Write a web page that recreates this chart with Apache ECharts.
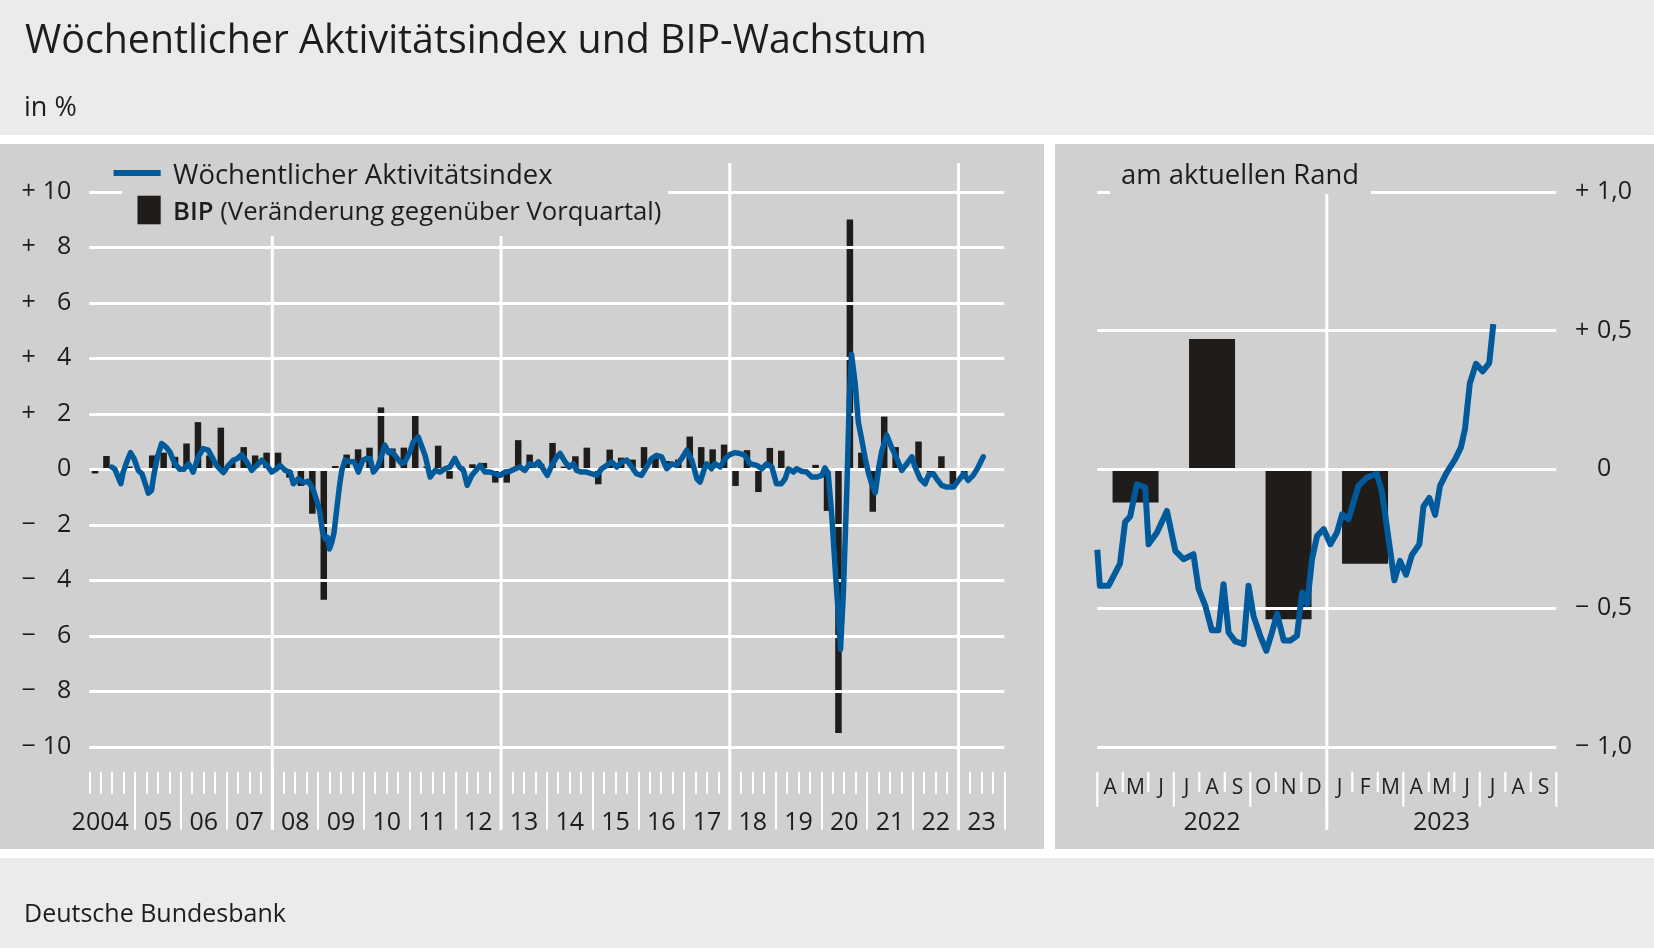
<!DOCTYPE html>
<html><head><meta charset="utf-8">
<script src="https://cdn.jsdelivr.net/npm/echarts@6/dist/echarts.min.js"></script>
<style>html,body{margin:0;padding:0;background:#ebebeb}#c{width:1654px;height:948px}</style>
</head><body><div id="c"></div>
<script>
// ---------- DATA ----------
const titleText = 'Wöchentlicher Aktivitätsindex und BIP-Wachstum';
const unitText = 'in %';
const sourceText = 'Deutsche Bundesbank';
const legendLine = 'Wöchentlicher Aktivitätsindex';
const legendBarBold = 'BIP';
const legendBarRest = ' (Veränderung gegenüber Vorquartal)';
const rightPanelTitle = 'am aktuellen Rand';

// Left panel: quarterly GDP growth, 2004Q1 .. 2023Q2
const bipStartYear = 2004;
const bipQuarterly = [-0.15, 0.48, 0, 0.1, 0.05, 0.5, 0.6, 0.45, 0.93, 1.7, 0.5, 1.5, 0.3, 0.8, 0.5, 0.6,
  0.6, -0.3, -0.6, -1.6, -4.7, 0.12, 0.53, 0.72, 0.78, 2.23, 0.75, 0.78, 1.93, 0.1, 0.85, -0.34,
  0.1, 0.18, 0.23, -0.48, -0.48, 1.05, 0.53, 0.2, 0.95, 0.1, 0.47, 0.78, -0.54, 0.71, 0.42, 0.35,
  0.8, 0.4, 0.3, 0.35, 1.18, 0.8, 0.72, 0.89, -0.6, 0.69, -0.82, 0.77, 0.67, 0, 0, 0.16,
  -1.5, -9.5, 9.0, 0.6, -1.53, 1.9, 0.8, 0, 1.0, -0.12, 0.47, -0.54, -0.34, 0];

// Left panel: weekly activity index (time in decimal years, value in %)
const waiYears = [2004.49, 2004.56, 2004.69, 2004.74, 2004.82, 2004.90, 2004.98, 2005.07, 2005.15, 2005.22,
  2005.29, 2005.36, 2005.41, 2005.49, 2005.58, 2005.68, 2005.76, 2005.87, 2005.98, 2006.07,
  2006.17, 2006.27, 2006.38, 2006.49, 2006.60, 2006.68, 2006.78, 2006.93, 2007.04, 2007.15,
  2007.24, 2007.33, 2007.44, 2007.55, 2007.66, 2007.77, 2007.88, 2007.99, 2008.10, 2008.17,
  2008.28, 2008.39, 2008.46, 2008.57, 2008.68, 2008.79, 2008.90, 2008.98, 2009.04, 2009.10,
  2009.15, 2009.20, 2009.25, 2009.30, 2009.35, 2009.41, 2009.47, 2009.52, 2009.59, 2009.70,
  2009.79, 2009.88, 2009.98, 2010.06, 2010.14, 2010.21, 2010.30, 2010.39, 2010.46, 2010.54,
  2010.61, 2010.68, 2010.76, 2010.83, 2010.90, 2011.01, 2011.08, 2011.19, 2011.34, 2011.45,
  2011.56, 2011.67, 2011.77, 2011.88, 2011.99, 2012.09, 2012.18, 2012.26, 2012.36, 2012.45,
  2012.54, 2012.65, 2012.76, 2012.87, 2012.98, 2013.09, 2013.20, 2013.31, 2013.41, 2013.52,
  2013.63, 2013.74, 2013.82, 2013.92, 2014.01, 2014.11, 2014.22, 2014.29, 2014.40, 2014.49,
  2014.58, 2014.65, 2014.76, 2014.87, 2014.98, 2015.09, 2015.20, 2015.31, 2015.42, 2015.53,
  2015.64, 2015.75, 2015.86, 2015.96, 2016.07, 2016.18, 2016.29, 2016.40, 2016.51, 2016.62,
  2016.73, 2016.84, 2016.95, 2017.06, 2017.17, 2017.28, 2017.35, 2017.42, 2017.49, 2017.60,
  2017.68, 2017.79, 2017.90, 2018.00, 2018.11, 2018.22, 2018.33, 2018.44, 2018.59, 2018.70,
  2018.81, 2018.92, 2019.02, 2019.13, 2019.21, 2019.28, 2019.39, 2019.46, 2019.57, 2019.68,
  2019.79, 2019.90, 2020.01, 2020.08, 2020.15, 2020.23, 2020.30, 2020.37, 2020.42, 2020.48,
  2020.56, 2020.61, 2020.66, 2020.74, 2020.81, 2020.88, 2020.96, 2021.03, 2021.10, 2021.18,
  2021.25, 2021.32, 2021.43, 2021.54, 2021.65, 2021.76, 2021.87, 2021.98, 2022.05, 2022.16,
  2022.27, 2022.34, 2022.45, 2022.52, 2022.63, 2022.74, 2022.89, 2023.00, 2023.11, 2023.21,
  2023.32, 2023.43, 2023.54];
const waiValues = [0.08, 0.0, -0.52, -0.1, 0.27, 0.6, 0.38, -0.04, -0.16, -0.5,
  -0.86, -0.76, -0.22, 0.45, 0.93, 0.8, 0.63, 0.2, 0.0, 0.0,
  0.2, -0.1, 0.45, 0.75, 0.69, 0.45, 0.14, -0.12, 0.14, 0.33,
  0.39, 0.53, 0.27, -0.04, 0.14, 0.33, 0.14, -0.1, 0.02, 0.14,
  -0.04, -0.1, -0.52, -0.34, -0.48, -0.43, -0.76, -1.18, -1.54, -2.27,
  -2.5, -2.45, -2.87, -2.63, -2.27, -1.42, -0.58, -0.04, 0.33, 0.27,
  0.27, -0.1, 0.33, 0.39, 0.39, -0.1, 0.08, 0.5, 0.87, 0.6,
  0.65, 0.5, 0.33, 0.2, 0.27, 0.63, 0.99, 1.17, 0.5, -0.28,
  -0.04, -0.1, 0.02, 0.08, 0.39, 0.08, -0.04, -0.58, -0.22, -0.04,
  0.14, -0.1, -0.1, -0.16, -0.22, -0.1, -0.07, 0.02, 0.08, -0.04,
  0.2, 0.14, 0.27, 0.02, -0.22, 0.14, 0.45, 0.57, 0.27, 0.08,
  0.2, -0.04, -0.1, -0.1, -0.16, -0.22, 0.02, 0.14, 0.27, 0.08,
  0.27, 0.33, 0.08, -0.16, -0.22, 0.08, 0.39, 0.5, 0.45, 0.02,
  0.2, 0.14, 0.39, 0.69, 0.33, -0.34, -0.46, -0.1, 0.2, 0.02,
  0.2, 0.08, 0.39, 0.53, 0.6, 0.57, 0.5, 0.2, 0.14, 0.02,
  0.2, 0.08, -0.52, -0.52, -0.34, 0.02, -0.1, 0.02, -0.07, -0.1,
  -0.28, -0.28, -0.22, 0.05, -0.13, -1.69, -3.5, -5.19, -6.49, -4.54,
  -0.65, 2.46, 4.15, 3.11, 1.69, 1.1, 0.39, -0.13, -0.52, -0.84,
  0.0, 0.65, 1.23, 0.78, 0.39, -0.04, 0.2, 0.45, 0.08, -0.34,
  -0.52, -0.22, -0.16, -0.34, -0.58, -0.64, -0.64, -0.4, -0.16, -0.4,
  -0.22, 0.08, 0.45];

const yearLabels = ['2004','05','06','07','08','09','10','11','12','13','14','15','16','17','18','19','20','21','22','23'];
const leftYearLines = [2008, 2013, 2018, 2023];

// Right panel: "am aktuellen Rand" (time in months since 1 Jan 2022)
const rightBipQuarters = ['2022-Q2', '2022-Q3', '2022-Q4', '2023-Q1'];
const rightBipValues = [-0.12, 0.47, -0.54, -0.34];
const rightWaiMonths = [3.0, 3.1, 3.44, 3.89, 4.09, 4.29, 4.55, 4.88, 5.01, 5.34,
  5.73, 6.06, 6.38, 6.77, 6.97, 7.23, 7.49, 7.75, 7.95, 8.15,
  8.41, 8.74, 8.93, 9.13, 9.39, 9.63, 9.85, 10.05, 10.31, 10.57,
  10.83, 11.03, 11.23, 11.42, 11.62, 11.88, 12.14, 12.40, 12.60, 12.85,
  13.24, 13.57, 13.96, 14.16, 14.42, 14.65, 14.87, 15.11, 15.33, 15.63,
  15.79, 16.02, 16.25, 16.44, 16.70, 17.03, 17.26, 17.42, 17.61, 17.85,
  18.11, 18.37, 18.53];
const rightWaiValues = [-0.29, -0.42, -0.42, -0.34, -0.19, -0.17, -0.054, -0.066, -0.27, -0.228,
  -0.15, -0.294, -0.324, -0.306, -0.43, -0.49, -0.58, -0.58, -0.414, -0.588,
  -0.62, -0.63, -0.42, -0.53, -0.6, -0.654, -0.588, -0.52, -0.617, -0.617,
  -0.6, -0.444, -0.486, -0.324, -0.24, -0.216, -0.27, -0.228, -0.162, -0.18,
  -0.06, -0.03, -0.016, -0.08, -0.25, -0.40, -0.33, -0.38, -0.31, -0.27,
  -0.134, -0.103, -0.164, -0.06, -0.012, 0.036, 0.079, 0.146, 0.31, 0.38,
  0.353, 0.383, 0.523];
const monthLabels = ['A','M','J','J','A','S','O','N','D','J','F','M','A','M','J','J','A','S'];
const rightFirstMonth = 3;   // April 2022, months since Jan 2022
const rightYearLabels = ['2022', '2023'];
const rightYearLineMonth = 12;

// ---------- STYLE ----------
const FONT = "'Open Sans', 'Noto Sans', sans-serif";
const TXT = '#1d1d1b';
const BLUE = '#005a9b';
const BARC = '#1f1c19';
const PANEL = '#d0d0d0';

const leftBars = bipQuarterly.map((v, i) => [bipStartYear + (i + 0.5) / 4, v]);
const leftLine = waiYears.map((y, i) => [y, waiValues[i]]);
const rightBars = rightBipQuarters.map((q, i) => {
  const yr = +q.slice(0, 4), qn = +q.slice(6);
  return [(yr - 2022) * 12 + (qn - 1) * 3 + 1.5, rightBipValues[i]];
});
const rightLine = rightWaiMonths.map((m, i) => [m, rightWaiValues[i]]);
const rightLastMonth = rightFirstMonth + monthLabels.length;

const leftFmt = v => {
  if (v > 0) return '{s|+}{n|' + v + '}';
  if (v < 0) return '{s|\u2212}{n|' + (-v) + '}';
  return '{s| }{n|0}';
};
const rightFmt = v => {
  const a = Math.abs(v).toFixed(1).replace('.', ',');
  if (v > 0) return '{s|+}{n|' + a + '}';
  if (v < 0) return '{s|\u2212}{n|' + a + '}';
  return '{s| }{n|0}';
};

const G0 = {left: 89.3, right: 1654 - 1004.3, top: 191.8, bottom: 948 - 746.8};
const G1 = {left: 1097.3, right: 1654 - 1556.3, top: 191.8, bottom: 948 - 746.8};
const TICK_TOP = 771.8;

const tickAxis = (grid, min, max, interval, len, custom) => {
  const t = {show: true, length: len, lineStyle: {color: '#fff', width: 2}};
  if (custom) t.customValues = custom;
  return {
    type: 'value', gridIndex: grid, min: min, max: max, interval: interval, position: 'bottom', offset: 25,
    axisLine: {show: false, onZero: false}, axisLabel: {show: false}, splitLine: {show: false},
    axisTick: t
  };
};

const chart = echarts.init(document.getElementById('c'), null, {renderer: 'canvas'});
const option = {
  animation: false,
  backgroundColor: '#ebebeb',
  textStyle: {fontFamily: FONT, color: TXT},
  grid: [Object.assign({containLabel: false}, G0), Object.assign({containLabel: false}, G1)],
  xAxis: [
    tickAxis(0, 2004, 2024, 0.25, 22),
    tickAxis(0, 2004, 2024, 1, 58, yearLabels.map((_, i) => bipStartYear + i + 1)),
    {type: 'category', gridIndex: 0, data: yearLabels, boundaryGap: true, position: 'bottom',
      axisLine: {show: false, onZero: false}, axisTick: {show: false}, splitLine: {show: false},
      axisLabel: {margin: 63.5, fontSize: 25, lineHeight: 25, color: TXT, fontFamily: FONT, interval: 0,
        formatter: (v, i) => i === 0 ? '{f|' + v + '}' : v,
        rich: {f: {fontSize: 25, lineHeight: 25, fontFamily: FONT, color: TXT, padding: [0, 24, 0, 0]}}}},
    {type: 'value', gridIndex: 1, min: rightFirstMonth, max: rightLastMonth, interval: 1, position: 'bottom',
      axisLine: {show: false, onZero: false}, axisTick: {show: false}, axisLabel: {show: false}, splitLine: {show: false}},
    {type: 'category', gridIndex: 1, data: monthLabels, boundaryGap: true, position: 'bottom',
      axisLine: {show: false, onZero: false}, axisTick: {show: false}, splitLine: {show: false},
      axisLabel: {margin: 30.7, fontSize: 21, lineHeight: 21, color: TXT, fontFamily: FONT, interval: 0}},
    {type: 'category', gridIndex: 1, data: rightYearLabels, boundaryGap: true, position: 'bottom',
      axisLine: {show: false, onZero: false}, axisTick: {show: false}, splitLine: {show: false},
      axisLabel: {margin: 63.5, fontSize: 25, lineHeight: 25, color: TXT, fontFamily: FONT, interval: 0}}
  ],
  yAxis: [
    {type: 'value', gridIndex: 0, min: -10, max: 10, interval: 2, z: 2,
      axisLine: {show: false, onZero: false}, axisTick: {show: false},
      splitLine: {show: true, lineStyle: {color: '#fff', width: 3}},
      axisLabel: {margin: 17.9, align: 'right', formatter: leftFmt,
        rich: {s: {width: 22, align: 'left', fontSize: 25, fontFamily: FONT, color: TXT},
               n: {width: 28, align: 'right', fontSize: 25, fontFamily: FONT, color: TXT}}}},
    {type: 'value', gridIndex: 1, min: -1, max: 1, interval: 0.5, position: 'right', z: 2,
      axisLine: {show: false, onZero: false}, axisTick: {show: false},
      splitLine: {show: true, lineStyle: {color: '#fff', width: 3}},
      axisLabel: {margin: 18.7, align: 'left', formatter: rightFmt,
        rich: {s: {width: 22, align: 'left', fontSize: 25, fontFamily: FONT, color: TXT},
               n: {align: 'left', fontSize: 25, fontFamily: FONT, color: TXT}}}}
  ],
  series: [
    {type: 'bar', name: 'BIP', xAxisIndex: 0, yAxisIndex: 0, data: leftBars, barWidth: 6.5, z: 1,
      itemStyle: {color: BARC}},
    {type: 'line', name: 'WAI', xAxisIndex: 0, yAxisIndex: 0, data: leftLine, showSymbol: false, z: 3,
      lineStyle: {color: BLUE, width: 5.5, join: 'round', cap: 'round'}},
    {type: 'bar', name: 'BIP2', xAxisIndex: 3, yAxisIndex: 1, data: rightBars, barWidth: 46, z: 1,
      itemStyle: {color: BARC}},
    {type: 'line', name: 'WAI2', xAxisIndex: 3, yAxisIndex: 1, data: rightLine, showSymbol: false, z: 3,
      lineStyle: {color: BLUE, width: 6, join: 'round', cap: 'butt'}}
  ]
};
chart.setOption(option);

// ---------- frame, legend, year lines, month ticks ----------
const els = [];
els.push({type: 'rect', z: -10, silent: true, shape: {x: 0, y: 135, width: 1654, height: 723}, style: {fill: '#ffffff'}});
els.push({type: 'rect', z: -9, silent: true, shape: {x: 0, y: 144, width: 1044, height: 705}, style: {fill: PANEL}});
els.push({type: 'rect', z: -9, silent: true, shape: {x: 1055, y: 144, width: 599, height: 705}, style: {fill: PANEL}});
els.push({type: 'text', z: 10, x: 25, y: 41.5, style: {text: titleText, font: '500 39.3px ' + FONT, fill: TXT, verticalAlign: 'middle'}});
els.push({type: 'text', z: 10, x: 24, y: 108, style: {text: unitText, font: '27px ' + FONT, fill: TXT, verticalAlign: 'middle'}});
els.push({type: 'text', z: 10, x: 24, y: 915, style: {text: sourceText, font: '25px ' + FONT, fill: TXT, verticalAlign: 'middle'}});

leftYearLines.forEach(y => {
  const px = chart.convertToPixel({xAxisIndex: 0}, y);
  els.push({type: 'rect', z: 2, silent: true, shape: {x: px - 1.5, y: 163, width: 3, height: 667}, style: {fill: '#ffffff'}});
});
// right panel month ticks (quarter starts longer)
const monthBoundaries = [];
for (let m = rightFirstMonth; m <= rightLastMonth; m++) monthBoundaries.push(m);
monthBoundaries.forEach(m => {
  const px = chart.convertToPixel({xAxisIndex: 3}, m);
  const len = (m % 3 === 0) ? 35 : 20;
  els.push({type: 'rect', z: 20, silent: true, shape: {x: px - 1.1, y: TICK_TOP, width: 2.2, height: len}, style: {fill: '#ffffff'}});
});
const rpx = chart.convertToPixel({xAxisIndex: 3}, rightYearLineMonth);
els.push({type: 'rect', z: 2, silent: true, shape: {x: rpx - 1.5, y: 163, width: 3, height: 667}, style: {fill: '#ffffff'}});

// legend boxes
els.push({type: 'rect', z: 5, silent: true, shape: {x: 122, y: 150, width: 546, height: 86}, style: {fill: PANEL}});
els.push({type: 'line', z: 6, silent: true, shape: {x1: 113.6, y1: 173, x2: 160.7, y2: 173}, style: {stroke: BLUE, lineWidth: 6}});
els.push({type: 'text', z: 6, x: 173, y: 176, style: {text: legendLine, font: '27.5px ' + FONT, fill: TXT, verticalAlign: 'middle'}});
els.push({type: 'rect', z: 6, silent: true, shape: {x: 137.5, y: 195.7, width: 23.2, height: 28.6}, style: {fill: BARC}});
els.push({type: 'text', z: 6, x: 173, y: 212.5, style: {
  text: '{b|' + legendBarBold + '}{r|' + legendBarRest + '}', verticalAlign: 'middle',
  rich: {b: {font: '600 25.7px ' + FONT, fill: TXT}, r: {font: '25.7px ' + FONT, fill: TXT}}}});
els.push({type: 'rect', z: 5, silent: true, shape: {x: 1110, y: 150, width: 261, height: 44}, style: {fill: PANEL}});
els.push({type: 'text', z: 6, x: 1121, y: 176, style: {text: rightPanelTitle, font: '27.4px ' + FONT, fill: TXT, verticalAlign: 'middle'}});

chart.setOption({graphic: {elements: els}});
</script>
</body></html>
